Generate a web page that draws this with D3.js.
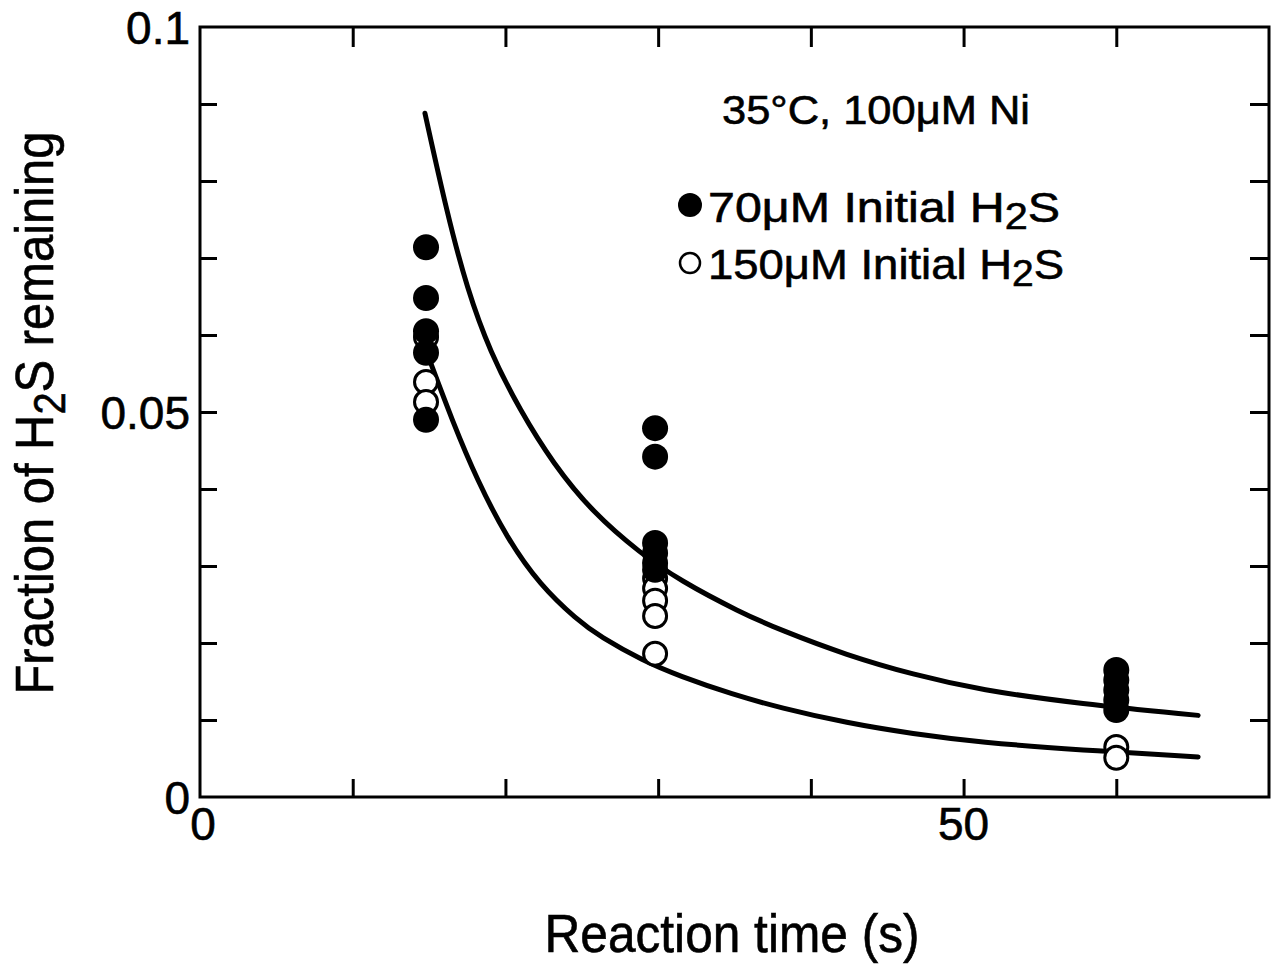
<!DOCTYPE html>
<html><head><meta charset="utf-8">
<script src="https://cdn.jsdelivr.net/npm/d3@7"></script>
<style>body{margin:0;background:#fff}svg{display:block}text{font-family:"Liberation Sans",Arial,sans-serif;fill:#000;stroke:#000;stroke-width:0.6}</style>
</head><body><svg id="c" width="1273" height="969"></svg>
<script>
// ---- data ----
const xTicks = [0,10,20,30,40,50,60,70];
const xTickLabels = {0:"0",50:"50"};
const yTicks = [0,0.01,0.02,0.03,0.04,0.05,0.06,0.07,0.08,0.09,0.1];
const yTickLabels = {0:"0",0.05:"0.05",0.1:"0.1"};

const filled15 = [0.0714,0.0648,0.0605,0.0577,0.0490];
const open15   = [0.0597,0.0539,0.0513];
const filled30 = [0.0479,0.0442,0.0330,0.0317,0.0304,0.0295];
const open30   = [0.0284,0.0271,0.0255,0.0235,0.0186];
const filled60 = [0.0165,0.0152,0.0139,0.0126,0.0113];
const open60   = [0.0065,0.0051];
const sampleTimes = [14.8,29.8,60];

const upperT = [14.73,16.18,17.49,18.99,20.96,23.12,25.74,28.81,31.43,35.36,37.98,42.37,46.69,51.08,57.63,65.36];
const upperF = [0.0888,0.0758,0.0660,0.0578,0.0502,0.0433,0.0369,0.0317,0.0281,0.0240,0.0217,0.0184,0.0159,0.0139,0.0121,0.0106];
const lowerT = [14.93,16.57,18.14,20.10,22.27,24.69,26.2,29.0,31.4,34.9,37.98,42.37,46.69,51.08,57.63,65.36];
const lowerF = [0.0573,0.0486,0.0412,0.0336,0.0275,0.0230,0.0208,0.0177,0.0157,0.0133,0.0116,0.0096,0.0082,0.0071,0.0061,0.0052];

// ---- drawing ----
const svg = d3.select("#c");
const x = d3.scaleLinear().domain([0,70]).range([200,1269]);
const y = d3.scaleLinear().domain([0,0.1]).range([797,27]);

// frame
svg.append("rect").attr("x",x(0)).attr("y",y(0.1)).attr("width",x(70)-x(0)).attr("height",y(0)-y(0.1))
  .attr("fill","none").attr("stroke","#000").attr("stroke-width",3);

function styleAxis(g){ g.select(".domain").remove(); g.selectAll(".tick line").attr("stroke","#000").attr("stroke-width",3); g.selectAll(".tick text").remove(); }
svg.append("g").attr("transform",`translate(0,${y(0)})`).call(d3.axisBottom(x).tickValues(xTicks.slice(1,-1)).tickSize(-18)).call(styleAxis);
svg.append("g").attr("transform",`translate(0,${y(0.1)})`).call(d3.axisTop(x).tickValues(xTicks.slice(1,-1)).tickSize(-20)).call(styleAxis);
svg.append("g").attr("transform",`translate(${x(0)},0)`).call(d3.axisLeft(y).tickValues(yTicks.slice(1,-1)).tickSize(-17)).call(styleAxis);
svg.append("g").attr("transform",`translate(${x(70)},0)`).call(d3.axisRight(y).tickValues(yTicks.slice(1,-1)).tickSize(-19)).call(styleAxis);

// tick labels
Object.keys(yTickLabels).forEach(k=>{
  svg.append("text").attr("x",190).attr("y",y(+k)+17).attr("text-anchor","end")
    .attr("font-size",46).text(yTickLabels[k]);
});
Object.keys(xTickLabels).forEach(k=>{
  svg.append("text").attr("x",x(+k)+ (k==="0"?3:0)).attr("y",840).attr("text-anchor","middle")
    .attr("font-size",46).text(xTickLabels[k]);
});

// curves
const line = d3.line().x(d=>x(d[0])).y(d=>y(d[1])).curve(d3.curveBasis);
svg.append("path").datum(upperT.map((t,i)=>[t,upperF[i]])).attr("d",line)
  .attr("fill","none").attr("stroke","#000").attr("stroke-width",5).attr("stroke-linecap","round");
svg.append("path").datum(lowerT.map((t,i)=>[t,lowerF[i]])).attr("d",line)
  .attr("fill","none").attr("stroke","#000").attr("stroke-width",5).attr("stroke-linecap","round");

// points
const filledSets = [filled15,filled30,filled60];
const openSets = [open15,open30,open60];
openSets.forEach((vals,i)=>vals.forEach(v=>{
  svg.append("circle").attr("cx",x(sampleTimes[i])).attr("cy",y(v)).attr("r",11.5)
    .attr("fill","#fff").attr("stroke","#000").attr("stroke-width",3);
}));
filledSets.forEach((vals,i)=>vals.forEach(v=>{
  svg.append("circle").attr("cx",x(sampleTimes[i])).attr("cy",y(v)).attr("r",13).attr("fill","#000");
}));

// annotation & legend
svg.append("text").attr("x",722).attr("y",124).attr("font-size",40).attr("textLength",308).attr("lengthAdjust","spacingAndGlyphs")
  .text("35°C, 100μM Ni");
svg.append("circle").attr("cx",690).attr("cy",205).attr("r",12).attr("fill","#000");
svg.append("circle").attr("cx",690).attr("cy",263).attr("r",10).attr("fill","#fff").attr("stroke","#000").attr("stroke-width",2.5);
function legendText(yPos, lead, len){
  const t = svg.append("text").attr("x",708).attr("y",yPos).attr("font-size",42).attr("textLength",len).attr("lengthAdjust","spacingAndGlyphs");
  t.append("tspan").text(lead+"  Initial  H");
  t.append("tspan").attr("dy",7).attr("font-size",36).text("2");
  t.append("tspan").attr("dy",-7).text("S");
}
legendText(222,"70μM",352);
legendText(279,"150μM",356);

// axis titles
svg.append("text").attr("x",732).attr("y",952).attr("text-anchor","middle").attr("font-size",54)
  .attr("textLength",375).attr("lengthAdjust","spacingAndGlyphs").text("Reaction time (s)");
const yt = svg.append("text").attr("transform","translate(53,413) rotate(-90)").attr("text-anchor","middle")
  .attr("font-size",54).attr("textLength",563).attr("lengthAdjust","spacingAndGlyphs");
yt.append("tspan").text("Fraction of H");
yt.append("tspan").attr("dy",12).attr("font-size",44).text("2");
yt.append("tspan").attr("dy",-12).text("S remaining");
</script></body></html>
